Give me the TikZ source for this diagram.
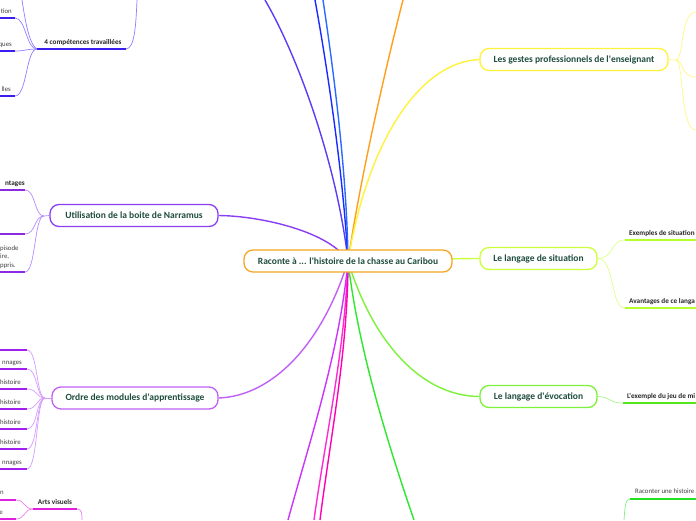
\documentclass[tikz,border=0pt]{standalone}
\usepackage{fontspec}
\usetikzlibrary{backgrounds}
\newfontfamily\mmfont{Carlito}
\definecolor{txtgreen}{HTML}{1F4D3D}
\definecolor{cOrangeB}{HTML}{F5A623}
\definecolor{cOrange}{HTML}{FF9F1C}
\definecolor{cViolet}{HTML}{8A3FF0}
\definecolor{cVioletL}{HTML}{B98CFF}
\definecolor{cVioletU}{HTML}{8A2BE2}
\definecolor{cIndigo}{HTML}{5B3DF5}
\definecolor{cIndigoL}{HTML}{8F80FF}
\definecolor{cIndigoU}{HTML}{3A1EF0}
\definecolor{cOrchid}{HTML}{C060F5}
\definecolor{cOrchidL}{HTML}{D59CFF}
\definecolor{cOrchidU}{HTML}{A020F0}
\definecolor{cMag}{HTML}{E020E0}
\definecolor{cMagL}{HTML}{F080F0}
\definecolor{cBlue}{HTML}{1A2BFF}
\definecolor{cBlueL}{HTML}{2A6BFF}
\definecolor{cPink}{HTML}{FF2BD0}
\definecolor{cPinkB}{HTML}{FF00B4}
\definecolor{cPurMag}{HTML}{CC33FF}
\definecolor{cYellow}{HTML}{FFF23A}
\definecolor{cYellowL}{HTML}{FFF78A}
\definecolor{cLime}{HTML}{CAFF3A}
\definecolor{cLimeL}{HTML}{DDFF8A}
\definecolor{cLimeU}{HTML}{B6FF2A}
\definecolor{cGreen}{HTML}{7CF23A}
\definecolor{cGreenL}{HTML}{A8F58A}
\definecolor{cGreenU}{HTML}{55E61C}
\definecolor{cGreenD}{HTML}{2EE82E}
\definecolor{cGreenDL}{HTML}{80F080}
\definecolor{cGreenDU}{HTML}{22E022}
\tikzset{
  topic/.style={draw, rounded corners=9pt, line width=1.3pt, fill=white,
    text=txtgreen, inner sep=0pt, minimum height=22pt,
    font=\mmfont\bfseries\fontsize{9.5}{11}\selectfont},
  branch/.style={line width=1.4pt},
  twig/.style={line width=0.7pt},
  uline/.style={line width=1.5pt},
  subb/.style={inner sep=0pt, text=black!85, font=\mmfont\bfseries\fontsize{7.2}{8.5}\selectfont},
  subr/.style={inner sep=0pt, text=black!75, font=\mmfont\fontsize{6.8}{8}\selectfont},
}
\begin{document}
\begin{tikzpicture}[x=1pt,y=-1pt]
\useasboundingbox (0,0) rectangle (696,520);
\clip (0,0) rectangle (696,520);

% ---------- nodes
\node[topic, draw=cOrangeB, minimum width=208pt] (center) at (348,261) {Raconte à ... l'histoire de la chasse au Caribou};
\node[topic, draw=cViolet, minimum width=168pt] (util) at (134,215.5) {Utilisation de la boite de Narramus};
\node[topic, draw=cOrchid, minimum width=166pt] (ordre) at (135,398) {Ordre des modules d'apprentissage};
\node[topic, draw=cYellow, minimum width=188pt] (gestes) at (574,59.5) {Les gestes professionnels de l'enseignant};
\node[topic, draw=cLime, minimum width=117pt] (situ) at (538.5,258.5) {Le langage de situation};
\node[topic, draw=cGreen, minimum width=117pt] (evoc) at (538.5,396.5) {Le langage d'évocation};

% ---------- sub topic texts
\node[subb, anchor=base] (comp) at (83,44.5) {4 compétences travaillées};
\node[subr, anchor=base east] (c1) at (12,13) {tion};
\node[subr, anchor=base east] (c2) at (12,46) {ques};
\node[subr, anchor=base east] (c3) at (11,91.5) {lles};

\node[subb, anchor=base east] (u1) at (25,185.5) {ntages};
\node[subr, anchor=base west] (u3a) at (0,250) {pisode};
\node[subr, anchor=base west] (u3b) at (0,258.5) {ire,};
\node[subr, anchor=base west] (u3c) at (0,267) {ppris.};

\node[subr, anchor=base east] (o2) at (22,364.5) {nnages};
\node[subr, anchor=base east] (o3) at (21,384.5) {histoire};
\node[subr, anchor=base east] (o4) at (21,404.5) {histoire};
\node[subr, anchor=base east] (o5) at (21,424.5) {histoire};
\node[subr, anchor=base east] (o6) at (21,444.5) {histoire};
\node[subr, anchor=base east] (o7) at (22,464.5) {nnages};

\node[subb, anchor=base] (arts) at (55,504.5) {Arts visuels};
\node[subr, anchor=base east] (a1) at (4,494.5) {n};
\node[subr, anchor=base east] (a2) at (3,514.5) {e};

\node[subb, anchor=base west] (s1) at (629,235.5) {Exemples de situation};
\node[subb, anchor=base west] (s2) at (629,303.5) {Avantages de ce langa};
\node[subb, anchor=base west] (e1) at (627,398.5) {L'exemple du jeu de mi};
\node[subr, anchor=base west] (g1) at (635,493.5) {Raconter une histoire};

% ---------- coordinates for connector ends
\coordinate (hub) at (348,261);
\coordinate (topViolet) at (265,0);
\coordinate (topBlue) at (315,0);
\coordinate (topBlueL) at (323,0);
\coordinate (topOrange) at (403,0);
\coordinate (botGreen) at (414,520);
\coordinate (botPink) at (314,520);
\coordinate (botPinkB) at (320,520);
\coordinate (botPurMag) at (288,520);

\coordinate (compL) at (37,49);  \coordinate (compR) at (126,49);
\coordinate (compTop) at (137,0); \coordinate (compUp) at (22,0);
\coordinate (c1L) at (0,18);  \coordinate (c1R) at (15,18);
\coordinate (c2L) at (0,51);  \coordinate (c2R) at (15,51);
\coordinate (c3L) at (0,96);  \coordinate (c3R) at (15,96);

\coordinate (uJ) at (44,216);
\coordinate (u1L) at (0,190);  \coordinate (u1R) at (25,190);
\coordinate (u2L) at (0,234);  \coordinate (u2R) at (25,234);
\coordinate (u3L) at (0,272);  \coordinate (u3R) at (25,272);

\coordinate (oJ) at (45,398);
\foreach \i/\yy in {1/350,2/369,3/389,4/409,5/429,6/449,7/469}{
  \coordinate (o\i L) at (0,\yy); \coordinate (o\i R) at (27,\yy);
}

\coordinate (artsL) at (33,509); \coordinate (artsR) at (77,509);
\coordinate (artsDown) at (82,520);
\coordinate (a1L) at (0,500); \coordinate (a1R) at (16,500);
\coordinate (a2L) at (0,519); \coordinate (a2R) at (16,519);

\coordinate (gJ) at (676,60);
\coordinate (gA) at (696,12); \coordinate (gB) at (696,77); \coordinate (gC) at (696,130);

\coordinate (s1L) at (625,240); \coordinate (s1R) at (696,240);
\coordinate (s2L) at (625,308); \coordinate (s2R) at (696,308);
\coordinate (e1L) at (623,403); \coordinate (e1R) at (696,403);
\coordinate (g1L) at (630,499); \coordinate (g1R) at (696,499);
\coordinate (g1Down) at (624,520);

\begin{scope}[on background layer]
\fill[white] (0,0) rectangle (696,520);
% main branches
\draw[branch, cIndigo] (hub) .. controls (338,170) and (300,60) .. (topViolet);
\draw[branch, cBlue] (hub) .. controls (343,170) and (326,60) .. (topBlue);
\draw[branch, cBlueL] (hub) .. controls (347,170) and (332,60) .. (topBlueL);
\draw[branch, cOrange] (hub) .. controls (360,180) and (385,70) .. (topOrange);
\draw[branch, cGreenD] (hub) .. controls (358,350) and (390,450) .. (botGreen);
\draw[branch, cPink] (hub) .. controls (345,350) and (325,440) .. (botPink);
\draw[branch, cPinkB] (hub) .. controls (348,350) and (330,440) .. (botPinkB);
\draw[branch, cPurMag] (hub) .. controls (340,350) and (310,440) .. (botPurMag);
\draw[branch, cViolet] (hub) .. controls (330,232) and (262,216) .. (util.east);
\draw[branch, cOrchid] (hub) .. controls (322,345) and (272,396) .. (ordre.east);
\draw[branch, cYellow] (hub) .. controls (368,140) and (420,62) .. (gestes.west);
\draw[branch, cLime] (hub) .. controls (420,260) and (450,258.5) .. (situ.west);
\draw[branch, cGreen] (hub) .. controls (372,340) and (420,396) .. (evoc.west);

% 4 competences
\draw[twig, cIndigoL] (compR) .. controls (135,49) and (136,22) .. (compTop);
\draw[twig, cIndigoL] (compL) .. controls (28,44) and (24,12) .. (compUp);
\draw[twig, cIndigoL] (compL) .. controls (26,49) and (26,18) .. (c1R);
\draw[twig, cIndigoL] (compL) .. controls (26,49) and (26,51) .. (c2R);
\draw[twig, cIndigoL] (compL) .. controls (26,49) and (27,96) .. (c3R);
\draw[uline, cIndigoU] (compL) -- (compR);
\draw[uline, cIndigoU] (c1L) -- (c1R);
\draw[uline, cIndigoU] (c2L) -- (c2R);
\draw[uline, cIndigoU] (c3L) -- (c3R);

% Utilisation children
\draw[twig, cVioletL] (util.west) -- (uJ);
\foreach \i in {1,2,3}{
  \draw[twig, cVioletL] (uJ) .. controls (34,216) and (36,0|-u\i R) .. (u\i R);
  \draw[uline, cVioletU] (u\i L) -- (u\i R);
}

% Ordre children
\draw[twig, cOrchidL] (ordre.west) -- (oJ);
\foreach \i in {1,...,7}{
  \draw[twig, cOrchidL] (oJ) .. controls (36,398) and (38,0|-o\i R) .. (o\i R);
  \draw[uline, cOrchidU] (o\i L) -- (o\i R);
}

% Arts visuels
\draw[twig, cMagL] (artsR) .. controls (82,509) and (82,514) .. (artsDown);
\draw[twig, cMagL] (artsL) .. controls (24,509) and (25,500) .. (a1R);
\draw[twig, cMagL] (artsL) .. controls (24,509) and (25,519) .. (a2R);
\draw[uline, cMag] (artsL) -- (artsR);
\draw[uline, cMag] (a1L) -- (a1R);
\draw[uline, cMag] (a2L) -- (a2R);

% Gestes children
\draw[twig, cYellowL] (gestes.east) -- (gJ);
\draw[twig, cYellowL] (gJ) .. controls (684,60) and (680,12) .. (gA);
\draw[twig, cYellowL] (gJ) .. controls (684,60) and (680,77) .. (gB);
\draw[twig, cYellowL] (gJ) .. controls (684,62) and (680,130) .. (gC);

% Situation children
\draw[twig, cLimeL] (situ.east) .. controls (615,258) and (610,240) .. (s1L);
\draw[twig, cLimeL] (situ.east) .. controls (615,258) and (610,308) .. (s2L);
\draw[uline, cLimeU] (s1L) -- (s1R);
\draw[uline, cLimeU] (s2L) -- (s2R);

% Evocation child
\draw[twig, cGreenL] (evoc.east) .. controls (612,397) and (608,403) .. (e1L);
\draw[uline, cGreenU] (e1L) -- (e1R);

% Raconter une histoire
\draw[twig, cGreenDL] (g1L) .. controls (625,499) and (625,508) .. (g1Down);
\draw[uline, cGreenDU] (g1L) -- (g1R);
\end{scope}
\end{tikzpicture}
\end{document}
